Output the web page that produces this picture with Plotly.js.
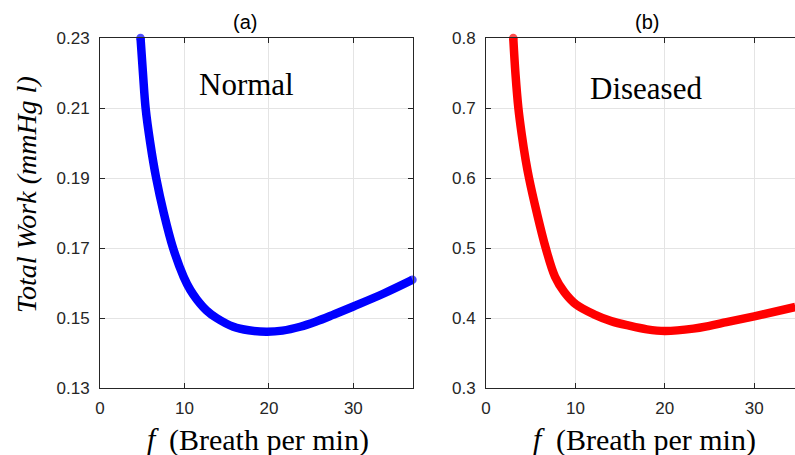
<!DOCTYPE html>
<html>
<head>
<meta charset="utf-8">
<script src="https://cdn.plot.ly/plotly-3.0.1.min.js"></script>
<style>html,body{margin:0;padding:0;background:#fff;}#chart{width:795px;height:455px;}</style>
</head>
<body>
<div id="chart"></div>
<script>
// Panel (a): Normal
const normalF = [4.8, 5.1, 5.4, 5.95, 6.65, 7.55, 8.65, 9.9, 10.7, 11.5, 12.6, 13.8, 15.8, 17.6, 19.7, 21.6, 23.7, 25.6, 27.6, 30.0, 33.6, 37.0];
const normalW = [0.230, 0.2195, 0.210, 0.200, 0.190, 0.180, 0.170, 0.1618, 0.158, 0.1552, 0.1522, 0.1500, 0.1475, 0.1465, 0.1461, 0.1464, 0.1475, 0.1490, 0.1509, 0.1533, 0.1570, 0.1609];
// Panel (b): Diseased
const diseasedF = [3.05, 3.3, 3.62, 4.0, 4.44, 4.81, 5.67, 6.68, 7.72, 8.76, 10.1, 12.2, 14.0, 16.0, 18.0, 20.0, 23.2, 25.0, 26.9, 30.0, 34.6];
const diseasedW = [0.800, 0.748, 0.700, 0.662, 0.6253, 0.600, 0.551, 0.500, 0.459, 0.437, 0.419, 0.4045, 0.3955, 0.389, 0.3838, 0.3815, 0.3848, 0.3888, 0.3940, 0.4024, 0.4157];

const xTicks = [0, 10, 20, 30];
const yTicksA = [0.13, 0.15, 0.17, 0.19, 0.21, 0.23];
const yTicksB = [0.3, 0.4, 0.5, 0.6, 0.7, 0.8];

const panelTitles = ['(a)', '(b)'];
const panelLabels = ['Normal', 'Diseased'];
const xVar = 'f';
const xUnit = '(Breath per min)';
const yTitle = 'Total Work (mmHg l)';

const SERIF = 'Liberation Serif';
const SANS = 'Liberation Sans';

const capSizes = (arr, both) => arr.map((v, i) => (i === 0 || (both && i === arr.length - 1)) ? 8.5 : 0);

const traces = [
  {x: normalF, y: normalW, xaxis: 'x', yaxis: 'y', type: 'scatter', mode: 'lines+markers',
   line: {color: '#0000ff', width: 8.5, shape: 'spline', smoothing: 1},
   marker: {color: '#0000ff', size: capSizes(normalF, true), line: {width: 0}},
   cliponaxis: false, showlegend: false, hoverinfo: 'x+y'},
  {x: diseasedF, y: diseasedW, xaxis: 'x2', yaxis: 'y2', type: 'scatter', mode: 'lines+markers',
   line: {color: '#ff0000', width: 8.5, shape: 'spline', smoothing: 1},
   marker: {color: '#ff0000', size: capSizes(diseasedF, false), line: {width: 0}},
   cliponaxis: false, showlegend: false, hoverinfo: 'x+y'}
];

const axColor = '#262626';
const tickFont = () => ({family: SANS, size: 17, color: axColor});
const serifFont = (s, italic) => (italic ? {family: SERIF, size: s, color: '#000', style: 'italic'} : {family: SERIF, size: s, color: '#000'});
const common = () => ({
  showline: true, linecolor: axColor, linewidth: 1,
  ticks: 'inside', ticklen: 5, tickwidth: 1, tickcolor: axColor,
  showgrid: true, gridcolor: '#e4e4e4', gridwidth: 1,
  zeroline: false, tickfont: tickFont(), fixedrange: true
});

const PX = v => v / 795;            // horizontal pixel -> paper
const PY = v => (388 - v) / 350;    // vertical pixel -> paper

const ann = (text, xp, yp, font, extra) => Object.assign({text: text, xref: 'paper', yref: 'paper', x: PX(xp), y: PY(yp),
  xanchor: 'center', yanchor: 'middle', showarrow: false, font: font}, extra || {});

const layout = {
  width: 795, height: 455,
  margin: {l: 0, r: 0, t: 38, b: 67},
  paper_bgcolor: '#ffffff', plot_bgcolor: '#ffffff',
  showlegend: false,
  xaxis: Object.assign(common(), {domain: [100/795, 413.3/795], range: [0, 37.1], tickvals: xTicks,
    mirror: 'ticks', anchor: 'y', ticklabelstandoff: 5}),
  yaxis: Object.assign(common(), {domain: [0, 1], range: [0.13, 0.23], tickvals: yTicksA, tickformat: '.2f',
    mirror: 'ticks', anchor: 'x', ticklabelstandoff: 6}),
  xaxis2: Object.assign(common(), {domain: [486/795, 1], range: [0, 34.56], tickvals: xTicks,
    mirror: 'ticks', anchor: 'y2', ticklabelstandoff: 5}),
  yaxis2: Object.assign(common(), {domain: [0, 1], range: [0.3, 0.8], tickvals: yTicksB, tickformat: '.1f',
    mirror: false, anchor: 'x2', ticklabelstandoff: 6}),
  annotations: [
    ann(panelTitles[0], 245, 22, {family: SANS, size: 20, color: '#000'}),
    ann(panelTitles[1], 647, 22, {family: SANS, size: 20, color: '#000'}),
    ann(panelLabels[0], 246, 85, serifFont(31, false)),
    ann(panelLabels[1], 645.5, 88.5, serifFont(31, false)),
    // x-axis titles: italic variable + upright unit
    ann(xVar, 153, 438, serifFont(30, true)),
    ann(xUnit, 269, 440, serifFont(30, false)),
    ann(xVar, 539, 438, serifFont(30, true)),
    ann(xUnit, 656, 440, serifFont(30, false)),
    // y-axis title
    ann(yTitle, 26, 195, serifFont(28, true), {textangle: -90})
  ]
};

Plotly.newPlot('chart', traces, layout, {displayModeBar: false, staticPlot: true});
</script>
</body>
</html>
